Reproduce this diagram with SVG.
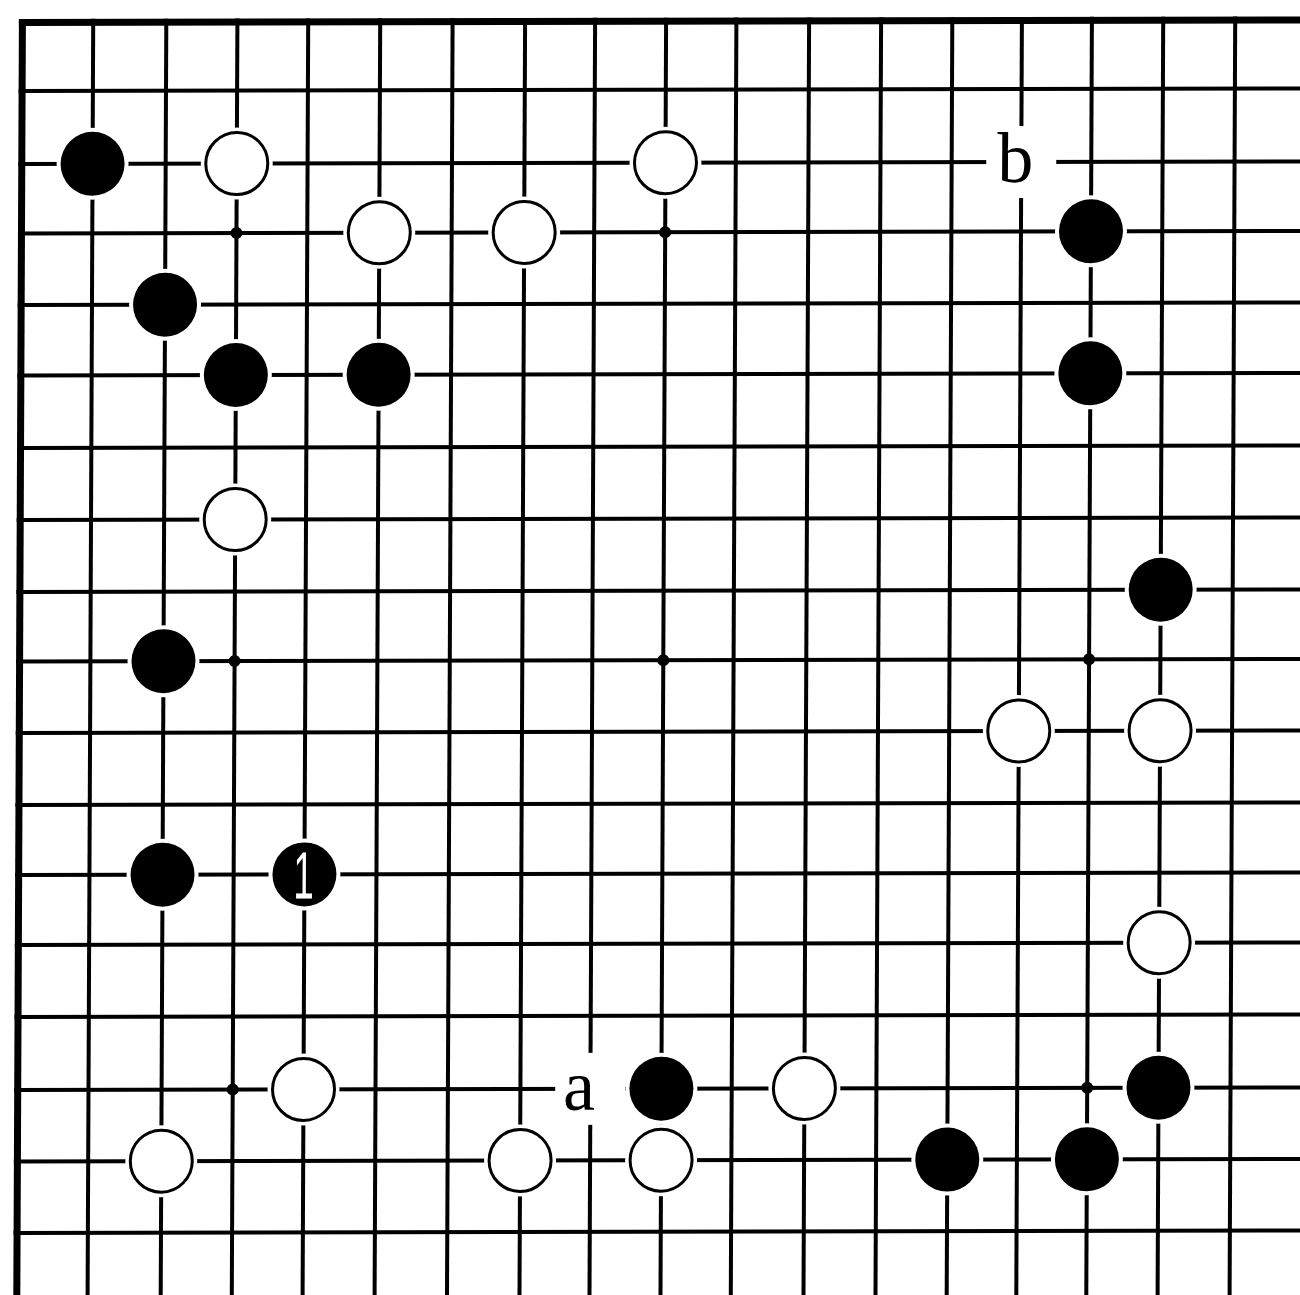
<svg xmlns="http://www.w3.org/2000/svg" width="1300" height="1295" viewBox="0 0 1300 1295">
<style>
  .grid line { stroke: #000; stroke-width: 4; }
  .grid line.edge { stroke-width: 7; }
  .halo { fill: #fff; }
  .bk { fill: #000; }
  .wt { fill: #fff; stroke: #000; stroke-width: 3; }
  .star { fill: #000; }
  .lbl { font-family: "Liberation Serif", "Times New Roman", serif; font-size: 72px; fill: #000; text-anchor: middle; }
  .num { font-family: "Liberation Sans", Arial, sans-serif; font-size: 67px; fill: #fff; text-anchor: middle; }
</style>
<rect width="1300" height="1295" fill="#fff"/>
<g transform="matrix(1,-0.002,-0.0044,1,0,0)">
  <g id="connectors" class="grid">
    <line x1="93.3" y1="19" x2="93.3" y2="1310"/>
    <line x1="166.4" y1="19" x2="166.4" y2="1310"/>
    <line x1="237.5" y1="19" x2="237.5" y2="1310"/>
    <line x1="308.3" y1="19" x2="308.3" y2="1310"/>
    <line x1="380.3" y1="19" x2="380.3" y2="1310"/>
    <line x1="452.7" y1="19" x2="452.7" y2="1310"/>
    <line x1="525.2" y1="19" x2="525.2" y2="1310"/>
    <line x1="595.2" y1="19" x2="595.2" y2="1310"/>
    <line x1="666.2" y1="19" x2="666.2" y2="1310"/>
    <line x1="736.5" y1="19" x2="736.5" y2="1310"/>
    <line x1="809.2" y1="19" x2="809.2" y2="1310"/>
    <line x1="881.2" y1="19" x2="881.2" y2="1310"/>
    <line x1="952.4" y1="19" x2="952.4" y2="1310"/>
    <line x1="1022" y1="19" x2="1022" y2="1310"/>
    <line x1="1092" y1="19" x2="1092" y2="1310"/>
    <line x1="1163.3" y1="19" x2="1163.3" y2="1310"/>
    <line x1="1235.3" y1="19" x2="1235.3" y2="1310"/>
    <line x1="19" y1="91" x2="1310" y2="91"/>
    <line x1="19" y1="164" x2="1310" y2="164"/>
    <line x1="19" y1="233.5" x2="1310" y2="233.5"/>
    <line x1="19" y1="305" x2="1310" y2="305"/>
    <line x1="19" y1="375.5" x2="1310" y2="375.5"/>
    <line x1="19" y1="448" x2="1310" y2="448"/>
    <line x1="19" y1="520" x2="1310" y2="520"/>
    <line x1="19" y1="592" x2="1310" y2="592"/>
    <line x1="19" y1="661.5" x2="1310" y2="661.5"/>
    <line x1="19" y1="733" x2="1310" y2="733"/>
    <line x1="19" y1="805" x2="1310" y2="805"/>
    <line x1="19" y1="875" x2="1310" y2="875"/>
    <line x1="19" y1="945" x2="1310" y2="945"/>
    <line x1="19" y1="1017" x2="1310" y2="1017"/>
    <line x1="19" y1="1090" x2="1310" y2="1090"/>
    <line x1="19" y1="1161.5" x2="1310" y2="1161.5"/>
    <line x1="19" y1="1233" x2="1310" y2="1233"/>
    <line class="edge" x1="22.5" y1="19" x2="22.5" y2="1310"/>
    <line class="edge" x1="19" y1="22.5" x2="1310" y2="22.5"/>
  </g>
  <g id="star-points">
    <circle class="star" cx="237.5" cy="233.5" r="6"/>
    <circle class="star" cx="666.2" cy="233.5" r="6"/>
    <circle class="star" cx="237.5" cy="661.5" r="6"/>
    <circle class="star" cx="666.2" cy="661.5" r="6"/>
    <circle class="star" cx="1092" cy="661.5" r="6"/>
    <circle class="star" cx="237.5" cy="1090" r="6"/>
    <circle class="star" cx="1092" cy="1090" r="6"/>
  </g>
  <!-- black stones -->
  <g id="black-c1-r2"><circle class="halo" cx="93.3" cy="164" r="36"/><circle class="bk" cx="93.3" cy="164" r="32"/></g>
  <g id="black-c15-r3"><circle class="halo" cx="1092" cy="233.5" r="36"/><circle class="bk" cx="1092" cy="233.5" r="32"/></g>
  <g id="black-c2-r4"><circle class="halo" cx="166.4" cy="305" r="36"/><circle class="bk" cx="166.4" cy="305" r="32"/></g>
  <g id="black-c3-r5"><circle class="halo" cx="237.5" cy="375.5" r="36"/><circle class="bk" cx="237.5" cy="375.5" r="32"/></g>
  <g id="black-c5-r5"><circle class="halo" cx="380.3" cy="375.5" r="36"/><circle class="bk" cx="380.3" cy="375.5" r="32"/></g>
  <g id="black-c15-r5"><circle class="halo" cx="1092" cy="375.5" r="36"/><circle class="bk" cx="1092" cy="375.5" r="32"/></g>
  <g id="black-c16-r8"><circle class="halo" cx="1163.3" cy="592" r="36"/><circle class="bk" cx="1163.3" cy="592" r="32"/></g>
  <g id="black-c2-r9"><circle class="halo" cx="166.4" cy="661.5" r="36"/><circle class="bk" cx="166.4" cy="661.5" r="32"/></g>
  <g id="black-c2-r12"><circle class="halo" cx="166.4" cy="875" r="36"/><circle class="bk" cx="166.4" cy="875" r="32"/></g>
  <g id="black-move-1"><circle class="halo" cx="308.3" cy="875" r="36"/><circle class="bk" cx="308.3" cy="875" r="32"/><text class="num" transform="translate(307.5,899) scale(0.55,1)" x="0" y="0">1</text></g>
  <g id="black-c9-r15"><circle class="halo" cx="666.2" cy="1090" r="36"/><circle class="bk" cx="666.2" cy="1090" r="32"/></g>
  <g id="black-c16-r15"><circle class="halo" cx="1163.3" cy="1090" r="36"/><circle class="bk" cx="1163.3" cy="1090" r="32"/></g>
  <g id="black-c13-r16"><circle class="halo" cx="952.4" cy="1161.5" r="36"/><circle class="bk" cx="952.4" cy="1161.5" r="32"/></g>
  <g id="black-c15-r16"><circle class="halo" cx="1092" cy="1161.5" r="36"/><circle class="bk" cx="1092" cy="1161.5" r="32"/></g>
  <!-- white stones -->
  <g id="white-c3-r2"><circle class="halo" cx="237.5" cy="164" r="36"/><circle class="wt" cx="237.5" cy="164" r="31"/></g>
  <g id="white-c9-r2"><circle class="halo" cx="666.2" cy="164" r="36"/><circle class="wt" cx="666.2" cy="164" r="31"/></g>
  <g id="white-c5-r3"><circle class="halo" cx="380.3" cy="233.5" r="36"/><circle class="wt" cx="380.3" cy="233.5" r="31"/></g>
  <g id="white-c7-r3"><circle class="halo" cx="525.2" cy="233.5" r="36"/><circle class="wt" cx="525.2" cy="233.5" r="31"/></g>
  <g id="white-c3-r7"><circle class="halo" cx="237.5" cy="520" r="36"/><circle class="wt" cx="237.5" cy="520" r="31"/></g>
  <g id="white-c14-r10"><circle class="halo" cx="1022" cy="733" r="36"/><circle class="wt" cx="1022" cy="733" r="31"/></g>
  <g id="white-c16-r10"><circle class="halo" cx="1163.3" cy="733" r="36"/><circle class="wt" cx="1163.3" cy="733" r="31"/></g>
  <g id="white-c16-r13"><circle class="halo" cx="1163.3" cy="945" r="36"/><circle class="wt" cx="1163.3" cy="945" r="31"/></g>
  <g id="white-c4-r15"><circle class="halo" cx="308.3" cy="1090" r="36"/><circle class="wt" cx="308.3" cy="1090" r="31"/></g>
  <g id="white-c11-r15"><circle class="halo" cx="809.2" cy="1090" r="36"/><circle class="wt" cx="809.2" cy="1090" r="31"/></g>
  <g id="white-c2-r16"><circle class="halo" cx="166.4" cy="1161.5" r="36"/><circle class="wt" cx="166.4" cy="1161.5" r="31"/></g>
  <g id="white-c7-r16"><circle class="halo" cx="525.2" cy="1161.5" r="36"/><circle class="wt" cx="525.2" cy="1161.5" r="31"/></g>
  <g id="white-c9-r16"><circle class="halo" cx="666.2" cy="1161.5" r="36"/><circle class="wt" cx="666.2" cy="1161.5" r="31"/></g>
  <!-- labels -->
  <g id="label-b"><rect x="987" y="128" width="70" height="72" fill="#fff"/><text class="lbl" x="1016" y="184">b</text></g>
  <g id="label-a"><rect x="560" y="1054" width="70" height="72" fill="#fff"/><text class="lbl" x="584" y="1111">a</text></g>
</g>
</svg>
